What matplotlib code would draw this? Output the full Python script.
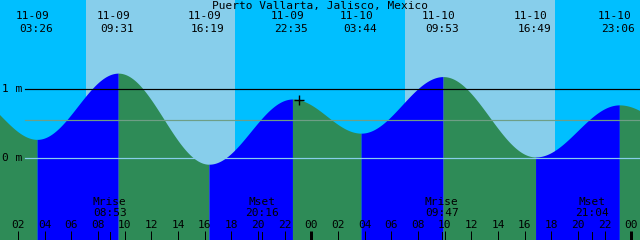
import numpy as np
import matplotlib
matplotlib.use("Agg")
import matplotlib.pyplot as plt
from matplotlib.transforms import blended_transform_factory

# ---- data (hours from 11-09 00:00) ----
title = "Puerto Vallarta, Jalisco, Mexico"
ext_hours = [-2.0, 3.433, 9.517, 16.317, 22.583, 27.733, 33.883, 40.817, 47.1, 52.0]
ext_heights = [0.95, 0.27, 1.23, -0.09, 0.855, 0.36, 1.18, 0.015, 0.77, 0.40]
label_dates = ["11-09", "11-09", "11-09", "11-09", "11-10", "11-10", "11-10", "11-10"]
label_times = ["03:26", "09:31", "16:19", "22:35", "03:44", "09:53", "16:49", "23:06"]
sunrise = [7.08, 31.05]
sunset = [18.30, 42.28]
moon_events = ["Mrise", "Mset", "Mrise", "Mset"]
moon_times = ["08:53", "20:16", "09:47", "21:04"]
moon_hours = [8.883, 20.267, 33.783, 45.067]
mean_level = 0.546
now_hour = 23.1
tick_hours = list(range(2, 49, 2))

# ---- layout ----
W, H = 640, 240
x0, pxh = 0.65, 13.333
x1 = x0 + W / pxh
pxm = 69.0
y_bot = -82 / pxm
y_top = (H - 82) / pxm

NIGHT = "#00BFFF"
DAY = "#87CEEB"
RISE = "#0000FF"
FALL = "#2E8B57"

fig = plt.figure(figsize=(6.4, 2.4), dpi=100)
ax = fig.add_axes([0, 0, 1, 1])
ax.set_xlim(x0, x1)
ax.set_ylim(y_bot, y_top)
ax.axis("off")
ax.set_facecolor(NIGHT)
fig.patch.set_facecolor(NIGHT)
ax.axvspan(x0, x1, color=NIGHT, zorder=0)
for sr, ss in zip(sunrise, sunset):
    ax.axvspan(sr, ss, color=DAY, zorder=0.5, lw=0)

def tide(t):
    t = np.atleast_1d(t).astype(float)
    out = np.empty_like(t)
    for i in range(len(ext_hours) - 1):
        a, b = ext_hours[i], ext_hours[i + 1]
        m = (t >= a) & (t <= b)
        f = (t[m] - a) / (b - a)
        out[m] = ext_heights[i] + (ext_heights[i + 1] - ext_heights[i]) * (1 - np.cos(np.pi * f)) / 2
    return out

for i in range(len(ext_hours) - 1):
    a, b = ext_hours[i], ext_hours[i + 1]
    tt = np.linspace(a, b, 300)
    yy = tide(tt)
    col = RISE if ext_heights[i + 1] > ext_heights[i] else FALL
    ax.fill_between(tt, y_bot - 1, yy, color=col, lw=0, zorder=1)

trans_px = blended_transform_factory(ax.transData, fig.transFigure)
def fy(py):
    return 1 - py / H
def fx(px):
    return x0 + px / pxh

lw1 = 0.72
xl = fx(25)
ax.plot([xl, x1], [1, 1], color="black", lw=lw1 * 1.2, zorder=3)
ax.plot([xl, x1], [mean_level, mean_level], color="#6E9E86", lw=lw1 * 1.2, zorder=3)
ax.plot([xl, x1], [0, 0], color="#87CEEB", lw=lw1 * 1.2, zorder=3)

font = dict(family="DejaVu Sans Mono", fontsize=8, color="black")
ax.text(fx(12), 1, "1 m", ha="center", va="center", zorder=4, **font)
ax.text(fx(12), 0, "0 m", ha="center", va="center", zorder=4, **font)

ax.text(0.5, fy(6), title, transform=fig.transFigure, ha="center", va="center", **font)
for h, d, tm in zip(ext_hours[1:-1], label_dates, label_times):
    ax.text(h - 4.5 / pxh, fy(16), d, transform=trans_px, ha="center", va="center", **font)
    ax.text(h - 1 / pxh, fy(29), tm, transform=trans_px, ha="center", va="center", **font)

for h, ev, tm in zip(moon_hours, moon_events, moon_times):
    ax.text(h, fy(202), ev, transform=trans_px, ha="center", va="center", zorder=4, **font)
    ax.text(h, fy(213), tm, transform=trans_px, ha="center", va="center", zorder=4, **font)
    ax.plot([h, h], [fy(232), fy(240)], transform=trans_px, color="black", lw=lw1, zorder=4)

for h in tick_hours:
    lab = "%02d" % (h % 24)
    ax.text(h, fy(225), lab, transform=trans_px, ha="center", va="center", zorder=4, **font)
    thick = (h % 24 == 0)
    ax.plot([h, h], [fy(231), fy(240)], transform=trans_px, color="black",
            lw=lw1 * (3 if thick else 1), zorder=4, solid_capstyle="butt")

ax.plot([now_hour], tide(now_hour), marker="+", ms=7, mew=1.0, color="black", zorder=5)

fig.savefig("out.png", dpi=100, facecolor=fig.get_facecolor())
